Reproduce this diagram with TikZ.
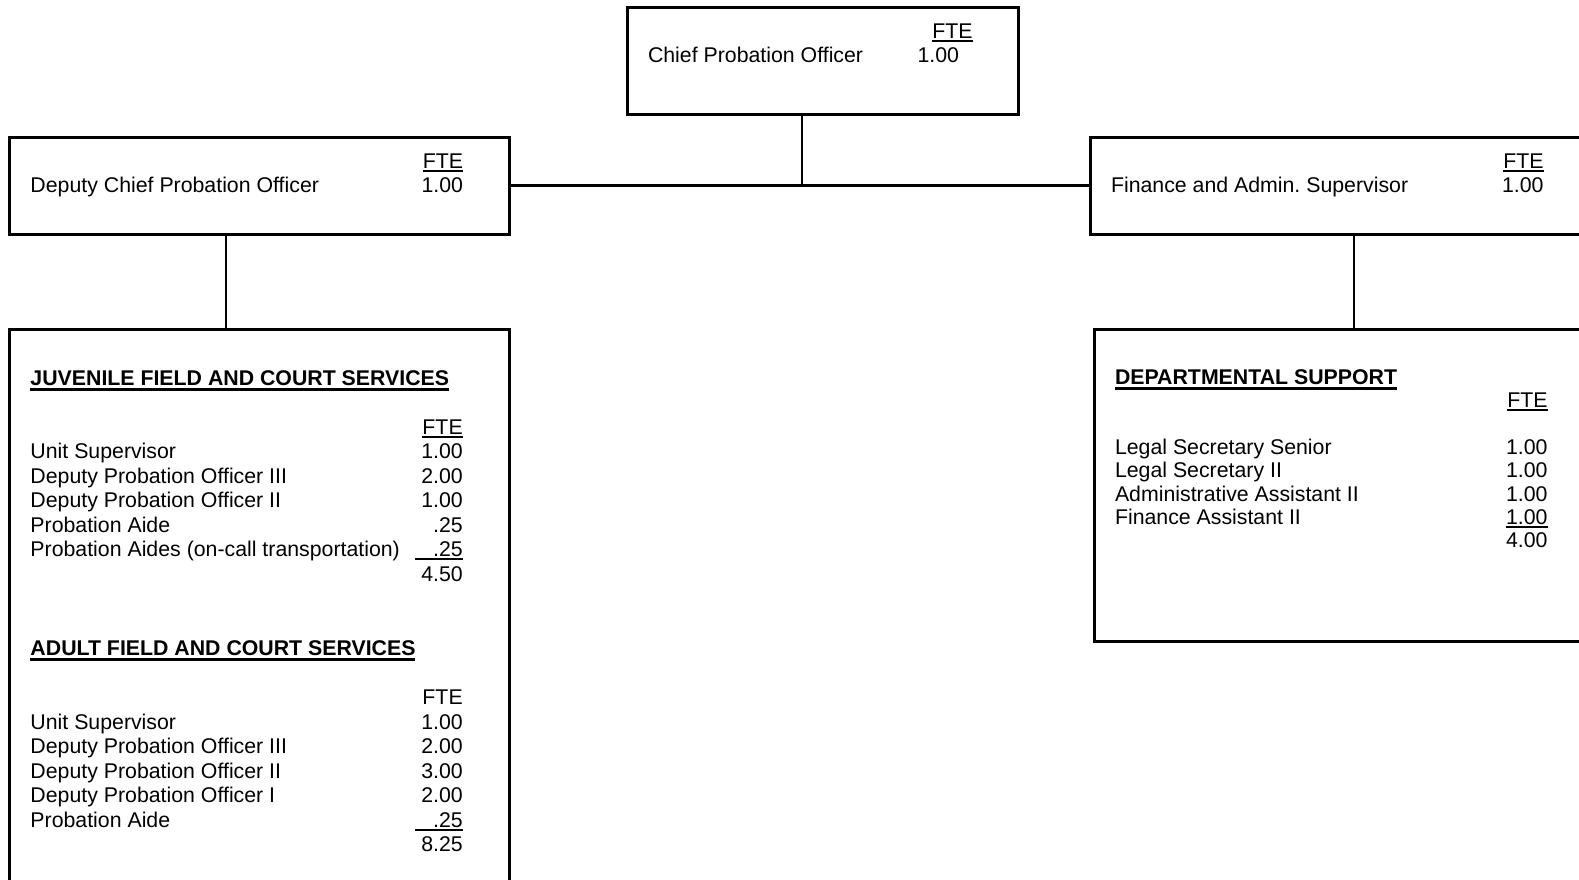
\documentclass[tikz,border=0pt]{standalone}
\usepackage{fontspec}
\setmainfont{Liberation Sans}
\frenchspacing
\newsavebox\ulbx
\newcommand\ulr[1]{\sbox\ulbx{#1}\rlap{\rule[-3.5pt]{\wd\ulbx}{2pt}}\usebox\ulbx}
\newcommand\ulw[2]{\rlap{\rule[-3.5pt]{#1}{2pt}}\makebox[#1][r]{#2}}
\newcommand\ulb[1]{\sbox\ulbx{#1}\rlap{\rule[-5.5pt]{\wd\ulbx}{2.2pt}}\usebox\ulbx}
\tikzset{
  box/.style={draw=black, line width=3pt, rectangle, inner sep=0pt, outer sep=0pt, anchor=north west},
  conn/.style={draw=black, line width=2.5pt},
  txt/.style={inner sep=0pt, outer sep=0pt, font=\fontsize{21.3pt}{24.5pt}\selectfont\frenchspacing},
  lt/.style={txt, anchor=base west},
  rt/.style={txt, anchor=base east},
  hd/.style={txt, anchor=base west, font=\fontsize{21.3pt}{24.5pt}\selectfont\bfseries}
}
\begin{document}
\begin{tikzpicture}[x=1pt,y=-1pt]
\useasboundingbox (0,0) rectangle (1579,879);
\clip (0,0) rectangle (1579,879);
\fill[white] (0,0) rectangle (1579,879);

% boxes
\node[box, minimum width=391pt, minimum height=107pt] (chief) at (627,7) {};
\node[box, minimum width=500pt, minimum height=97pt] (dep) at (9,137) {};
\node[box, minimum width=520pt, minimum height=97pt] (fin) at (1090,137) {};
\node[box, minimum width=500pt, minimum height=580pt] (juv) at (9,329) {};
\node[box, minimum width=520pt, minimum height=312pt] (dept) at (1094,329) {};

% connectors
\coordinate (c1) at (802,185);
\coordinate (c2) at (226,280);
\coordinate (c3) at (1354,280);
\draw[conn] (dep.east) -- (fin.west);
\draw[conn] (c1 |- chief.south) -- (c1 |- dep.east);
\draw[conn] (c2 |- dep.south) -- (c2 |- juv.north);
\draw[conn] (c3 |- fin.south) -- (c3 |- dept.north);

% chief
\node[rt] (cfte) at (972.5,38) {\ulr{FTE}};
\node[lt] (clab) at (648,62) {Chief Probation Officer};
\node[rt] (cval) at (959,62) {1.00};

% deputy
\node[rt] (dfte) at (463,168.5) {\ulr{FTE}};
\node[lt] (dlab) at (30.5,192.5) {Deputy Chief Probation Officer};
\node[rt] (dval) at (463,192.5) {1.00};

% finance
\node[rt] (ffte) at (1543.5,168.5) {\ulr{FTE}};
\node[lt] (flab) at (1111,192.5) {Finance and Admin. Supervisor};
\node[rt] (fval) at (1543.5,192.5) {1.00};

% juvenile
\node[hd] (jh) at (30.5,385) {\ulb{JUVENILE FIELD AND COURT SERVICES}};
\node[rt] (jfte) at (462.7,434) {\ulr{FTE}};
\node[lt] (jl1) at (30.5,458.5) {Unit Supervisor};
\node[rt] (jv1) at (462.7,458.5) {1.00};
\node[lt] (jl2) at (30.5,483) {Deputy Probation Officer III};
\node[rt] (jv2) at (462.7,483) {2.00};
\node[lt] (jl3) at (30.5,507.5) {Deputy Probation Officer II};
\node[rt] (jv3) at (462.7,507.5) {1.00};
\node[lt] (jl4) at (30.5,532) {Probation Aide};
\node[rt] (jv4) at (462.7,532) {.25};
\node[lt] (jl5) at (30.5,556.5) {Probation Aides (on-call transportation)};
\node[rt] (jv5) at (462.7,556.5) {\ulw{47.5pt}{.25}};
\node[rt] (jtot) at (462.7,581) {4.50};

% adult
\node[hd] (ah) at (30.5,655) {\ulb{ADULT FIELD AND COURT SERVICES}};
\node[rt] (afte) at (462.7,704.5) {FTE};
\node[lt] (al1) at (30.5,729) {Unit Supervisor};
\node[rt] (av1) at (462.7,729) {1.00};
\node[lt] (al2) at (30.5,753.5) {Deputy Probation Officer III};
\node[rt] (av2) at (462.7,753.5) {2.00};
\node[lt] (al3) at (30.5,778) {Deputy Probation Officer II};
\node[rt] (av3) at (462.7,778) {3.00};
\node[lt] (al4) at (30.5,802.5) {Deputy Probation Officer I};
\node[rt] (av4) at (462.7,802.5) {2.00};
\node[lt] (al5) at (30.5,827) {Probation Aide};
\node[rt] (av5) at (462.7,827) {\ulw{47.5pt}{.25}};
\node[rt] (atot) at (462.7,851.5) {8.25};

% departmental support
\node[hd] (sh) at (1115,384) {\ulb{DEPARTMENTAL SUPPORT}};
\node[rt] (sfte) at (1547.5,407.5) {\ulr{FTE}};
\node[lt] (sl1) at (1115,454.5) {Legal Secretary Senior};
\node[rt] (sv1) at (1547.5,454.5) {1.00};
\node[lt] (sl2) at (1115,477.8) {Legal Secretary II};
\node[rt] (sv2) at (1547.5,477.8) {1.00};
\node[lt] (sl3) at (1115,501) {Administrative Assistant II};
\node[rt] (sv3) at (1547.5,501) {1.00};
\node[lt] (sl4) at (1115,524.3) {Finance Assistant II};
\node[rt] (sv4) at (1547.5,524.3) {\ulr{1.00}};
\node[rt] (stot) at (1547.5,547.6) {4.00};
\end{tikzpicture}
\end{document}
